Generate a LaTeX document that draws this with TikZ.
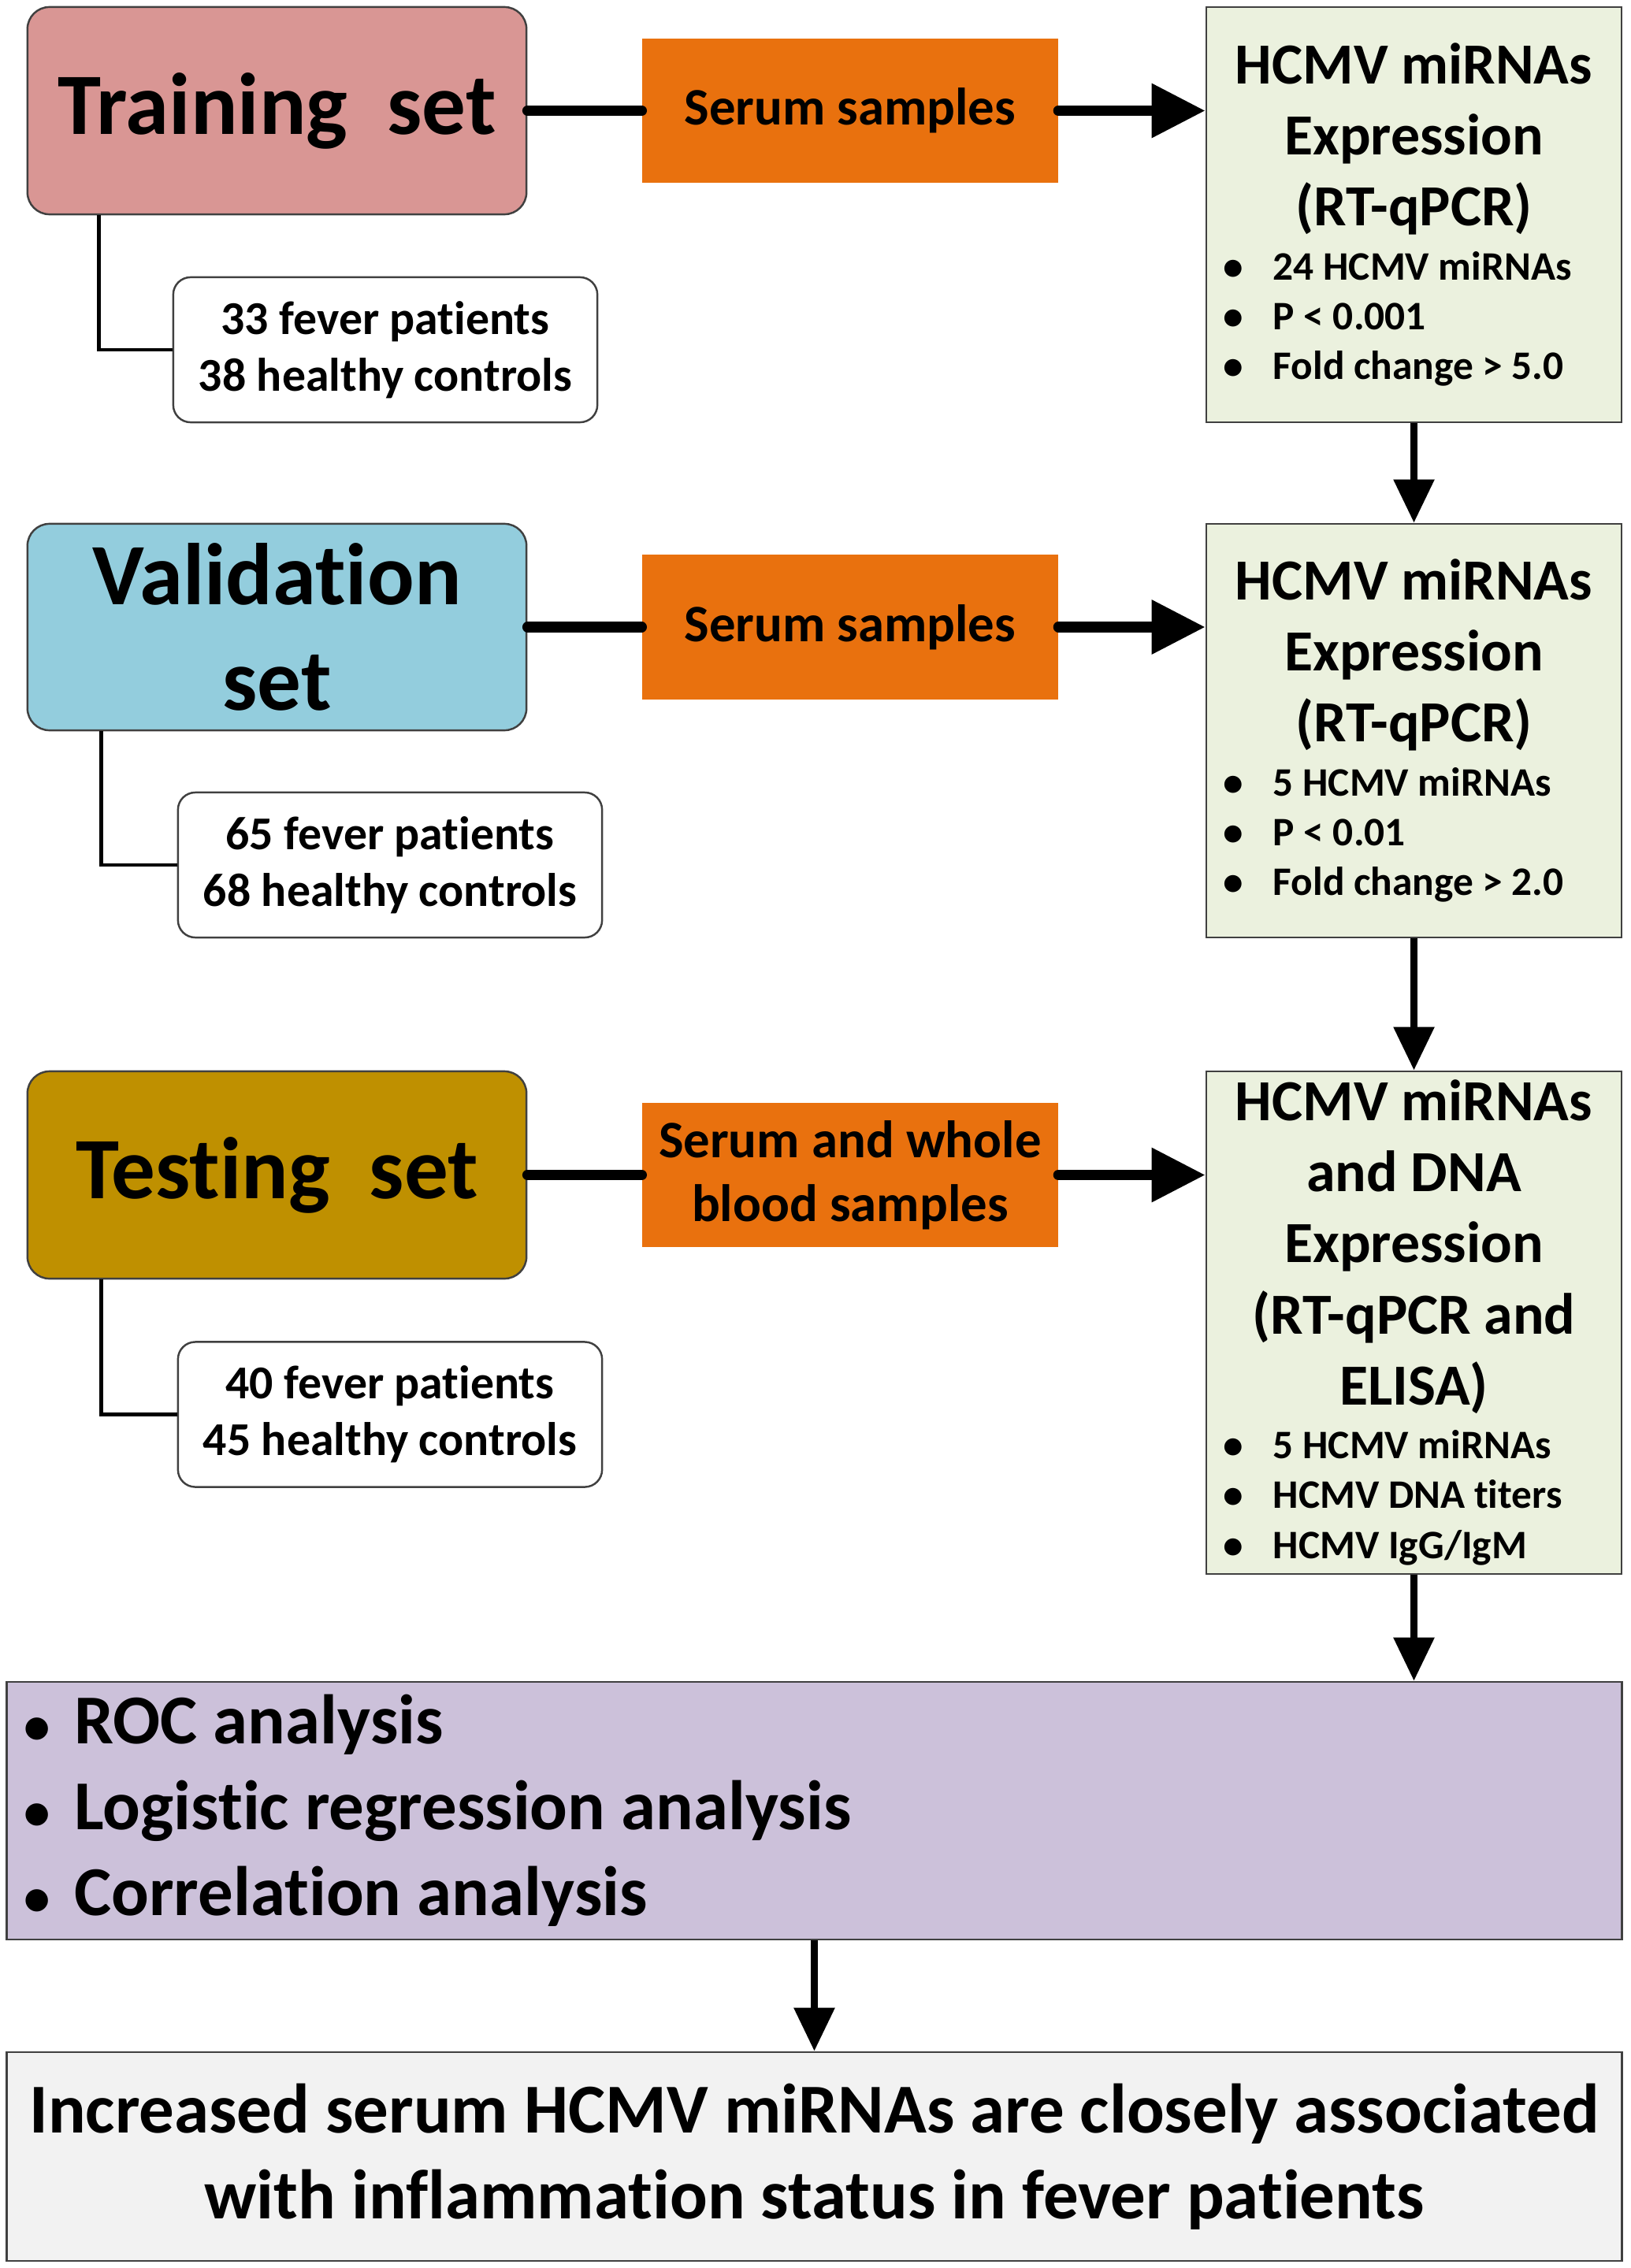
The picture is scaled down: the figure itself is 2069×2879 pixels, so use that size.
\documentclass[tikz,border=0pt]{standalone}
\usepackage{fontspec}
\setmainfont{Carlito}[Ligatures=NoCommon]
\usetikzlibrary{arrows.meta, positioning}

\definecolor{trainred}{HTML}{D99694}
\definecolor{validblue}{HTML}{93CDDD}
\definecolor{testgold}{HTML}{BF9000}
\definecolor{serumorange}{HTML}{E9710E}
\definecolor{assaygreen}{HTML}{EBF1DE}
\definecolor{analysispurple}{HTML}{CCC1DA}
\definecolor{resultgrey}{HTML}{F2F2F2}
\definecolor{edgegrey}{HTML}{404040}

\newcommand{\setfont}{\fontsize{31.6}{38}\selectfont\bfseries}
\newcommand{\serumfont}{\fontsize{19}{23}\selectfont\bfseries}
\newcommand{\assayfont}{\fontsize{21}{25.6}\selectfont\bfseries}
\newcommand{\itemfont}{\fontsize{14.6}{18}\selectfont\bfseries}
\newcommand{\groupfont}{\fontsize{17}{20.5}\selectfont\bfseries}
\newcommand{\bigfont}{\fontsize{25.3}{31}\selectfont\bfseries}
\newcommand{\assayitem}[1]{\makebox[0.63cm][l]{\textbullet}#1\par}
\newcommand{\analysisitem}[1]{\makebox[0.64cm][l]{\fontsize{19}{19}\selectfont\textbullet}#1\par}

\tikzset{
    setbox/.style = {
        rectangle,
        draw=edgegrey,
        line width=0.7pt,
        rounded corners=0.28cm,
        minimum width=6.33cm,
        inner sep=0pt,
        align=center,
        font=\setfont
    },
    serumbox/.style = {
        rectangle,
        fill=serumorange,
        minimum width=5.27cm,
        minimum height=1.83cm,
        inner sep=0pt,
        align=center,
        font=\serumfont
    },
    assaybox/.style = {
        rectangle,
        draw=edgegrey,
        line width=0.7pt,
        fill=assaygreen,
        minimum width=5.27cm,
        inner xsep=0.22cm,
        inner ysep=0pt,
        text width=4.83cm,
        align=flush left
    },
    groupbox/.style = {
        rectangle,
        draw=edgegrey,
        line width=0.7pt,
        fill=white,
        rounded corners=0.22cm,
        minimum width=5.38cm,
        minimum height=1.84cm,
        inner sep=0pt,
        align=center,
        font=\groupfont
    },
    line/.style = {
        draw,
        line width=3.7pt,
        line cap=round
    }
}

\begin{document}
\begin{tikzpicture}[
    x=0.01cm, y=-0.01cm,
    thickflow/.style={line width=3.7pt, line cap=round, -{Triangle[length=0.68cm, width=0.66cm]}},
    downflow/.style={line width=2.6pt, -{Triangle[length=0.55cm, width=0.5cm]}},
    link/.style={line width=1.4pt}
]
\useasboundingbox (0,0) rectangle (2069,2879);

% Left column: the three sets
\node [setbox, fill=trainred, minimum height=2.63cm] (train) at (351.5,140.5) {Training~~set};
\node [setbox, fill=validblue, minimum height=2.62cm] (valid) at (351.5,796) {Validation\\set};
\node [setbox, fill=testgold, minimum height=2.63cm] (test) at (351.5,1491.5) {Testing~~set};

% Sample boxes
\node [serumbox, right=1.45cm of train] (serum1) {Serum samples};
\node [serumbox, right=1.45cm of valid] (serum2) {Serum samples};
\node [serumbox, right=1.45cm of test] (serum3) {Serum and whole\\blood samples};

% Subject groups
\node [groupbox] (grp1) at (489,444) {33 fever patients\\38 healthy controls};
\node [groupbox] (grp2) at (495,1098) {65 fever patients\\68 healthy controls};
\node [groupbox] (grp3) at (495,1795.5) {40 fever patients\\45 healthy controls};

% Expression boxes
\node [assaybox, minimum height=5.27cm] (assay1) at (1794.5,272.5) {%
    {\centering\assayfont HCMV miRNAs\\Expression\\(RT-qPCR)\par}
    \vspace{1.5pt}\itemfont
    \assayitem{24 HCMV miRNAs}
    \assayitem{P < 0.001}
    \assayitem{Fold change > 5.0}};
\node [assaybox, minimum height=5.25cm] (assay2) at (1794.5,927.5) {%
    {\centering\assayfont HCMV miRNAs\\Expression\\(RT-qPCR)\par}
    \vspace{1.5pt}\itemfont
    \assayitem{5 HCMV miRNAs}
    \assayitem{P < 0.01}
    \assayitem{Fold change > 2.0}};
\node [assaybox, minimum height=6.38cm] (assay3) at (1794.5,1679) {%
    {\centering\assayfont HCMV miRNAs\\and DNA\\Expression\\(RT-qPCR and\\ELISA)\par}
    \vspace{1.5pt}\itemfont
    \assayitem{5 HCMV miRNAs}
    \assayitem{HCMV DNA titers}
    \assayitem{HCMV IgG/IgM}};

% Analysis and conclusion
\node [rectangle, draw=edgegrey, line width=0.7pt, fill=analysispurple,
       minimum width=20.49cm, minimum height=3.27cm, inner xsep=0.22cm, inner ysep=0pt,
       text width=20.05cm, align=flush left, font=\bigfont] (analysis) at (1033.5,2298.5) {%
    \analysisitem{ROC analysis}
    \analysisitem{Logistic regression analysis}
    \analysisitem{Correlation analysis}};
\node [rectangle, draw=edgegrey, line width=0.7pt, fill=resultgrey,
       minimum width=20.49cm, minimum height=2.65cm, inner sep=0pt,
       align=center, font=\bigfont] (result) at (1033.5,2737.5)
    {Increased serum HCMV miRNAs are closely associated\\with inflammation status in fever patients};

% Horizontal flow
\draw [line] (train.east) -- (serum1.west);
\draw [line] (valid.east) -- (serum2.west);
\draw [line] (test.east) -- (serum3.west);
\draw [thickflow] (serum1.east) -- (serum1.east -| assay1.west);
\draw [thickflow] (serum2.east) -- (serum2.east -| assay2.west);
\draw [thickflow] (serum3.east) -- (serum3.east -| assay3.west);

% Set to group links
\draw [link] ([xshift=0.92cm]train.south west) |- (grp1.west);
\draw [link] ([xshift=0.95cm]valid.south west) |- (grp2.west);
\draw [link] ([xshift=0.95cm]test.south west) |- (grp3.west);

% Vertical flow
\draw [downflow] (assay1.south) -- (assay2.north);
\draw [downflow] (assay2.south) -- (assay3.north);
\draw [downflow] (assay3.south) -- (assay3.south |- analysis.north);
\draw [downflow] (analysis.south) -- (result.north);

\end{tikzpicture}
\end{document}
